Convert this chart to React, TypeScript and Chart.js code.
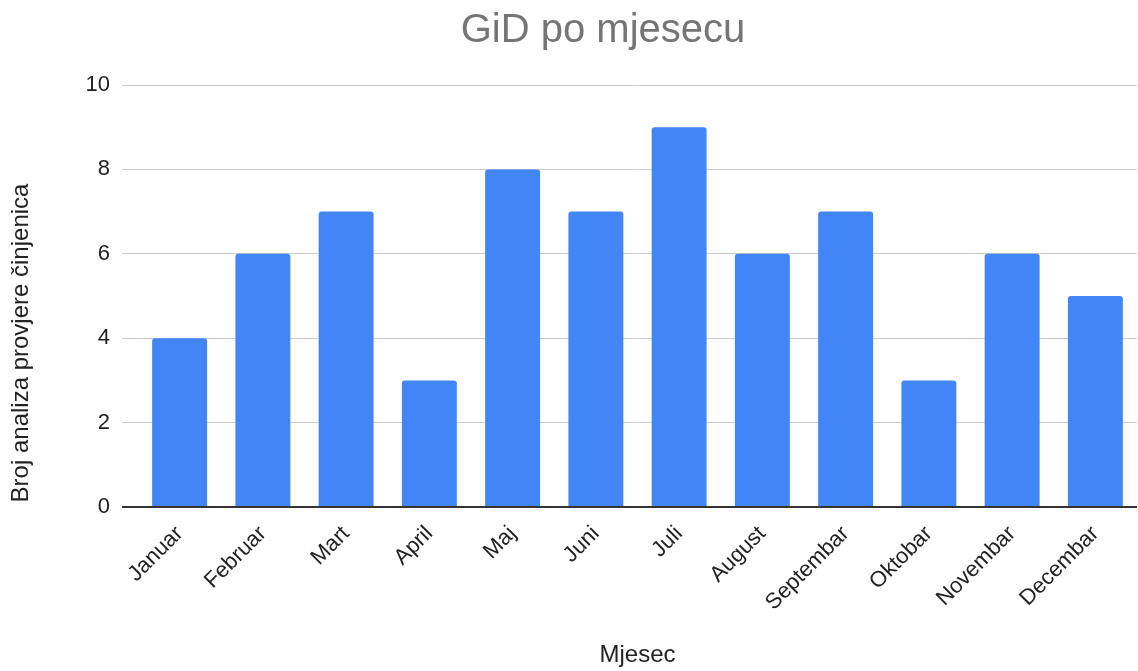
import React, { useEffect, useRef } from "react";
import { Chart, registerables } from "chart.js";

Chart.register(...registerables);

const chartTitle = "GiD po mjesecu";
const xAxisTitle = "Mjesec";
const yAxisTitle = "Broj analiza provjere činjenica";

const months = [
  "Januar",
  "Februar",
  "Mart",
  "April",
  "Maj",
  "Juni",
  "Juli",
  "August",
  "Septembar",
  "Oktobar",
  "Novembar",
  "Decembar",
];
const counts = [4, 6, 7, 3, 8, 7, 9, 6, 7, 3, 6, 5];
const yMin = 0;
const yMax = 10;
const yStep = 2;

const FONT = '"Liberation Sans", Arial, sans-serif';

const customText = {
  id: "customText",
  afterDraw(chart: any) {
    const ctx = chart.ctx;
    ctx.save();
    ctx.fillStyle = "#757575";
    ctx.font = `40px ${FONT}`;
    ctx.textAlign = "center";
    ctx.textBaseline = "middle";
    ctx.fillText(chartTitle, 603, 31);
    ctx.restore();

    ctx.save();
    ctx.translate(21, 343);
    ctx.rotate(-Math.PI / 2);
    ctx.fillStyle = "#222";
    ctx.font = `24px ${FONT}`;
    ctx.textAlign = "center";
    ctx.textBaseline = "middle";
    ctx.fillText(yAxisTitle, 0, 0);
    ctx.restore();
  },
};

export default function App() {
  const ref = useRef<HTMLCanvasElement>(null);
  useEffect(() => {
    if (!ref.current) return;
    const chart = new Chart(ref.current, {
      type: "bar",
      data: {
        labels: months,
        datasets: [
          {
            data: counts,
            backgroundColor: "#4285F4",
            barPercentage: 0.66,
            categoryPercentage: 1,
            borderRadius: 3,
          },
        ],
      },
      options: {
        animation: false,
        responsive: false,
        maintainAspectRatio: false,
        layout: { padding: { top: 85, right: 1, left: 0, bottom: 0 } },
        plugins: {
          legend: { display: false },
          title: { display: false },
          tooltip: { enabled: false },
        },
        scales: {
          x: {
            afterFit: (s: any) => {
              s.height = 164;
            },
            grid: { display: false },
            border: { display: false },
            ticks: {
              color: "#222",
              font: { family: FONT, size: 22 },
              minRotation: 45,
              maxRotation: 45,
              padding: 6,
              autoSkip: false,
            },
            title: {
              display: true,
              text: xAxisTitle,
              color: "#222",
              font: { family: FONT, size: 24 },
              padding: { top: 0, bottom: 1 },
            },
          },
          y: {
            min: yMin,
            max: yMax,
            afterFit: (s: any) => {
              s.width = 138;
            },
            border: { display: false },
            grid: {
              color: (c: any) => (c.tick && c.tick.value === 0 ? "#333" : "#cccccc"),
              lineWidth: (c: any) => (c.tick && c.tick.value === 0 ? 2 : 1),
              drawTicks: true,
              tickLength: 16,
            },
            ticks: {
              stepSize: yStep,
              color: "#222",
              font: { family: FONT, size: 22 },
              padding: 12,
            },
          },
        },
      },
      plugins: [customText],
    });
    return () => chart.destroy();
  }, []);
  return (
    <div style={{ position: "fixed", left: 0, top: 0, width: 1138, height: 671, background: "#fff" }}>
      <canvas ref={ref} width={1138} height={671} style={{ width: 1138, height: 671 }} />
    </div>
  );
}
